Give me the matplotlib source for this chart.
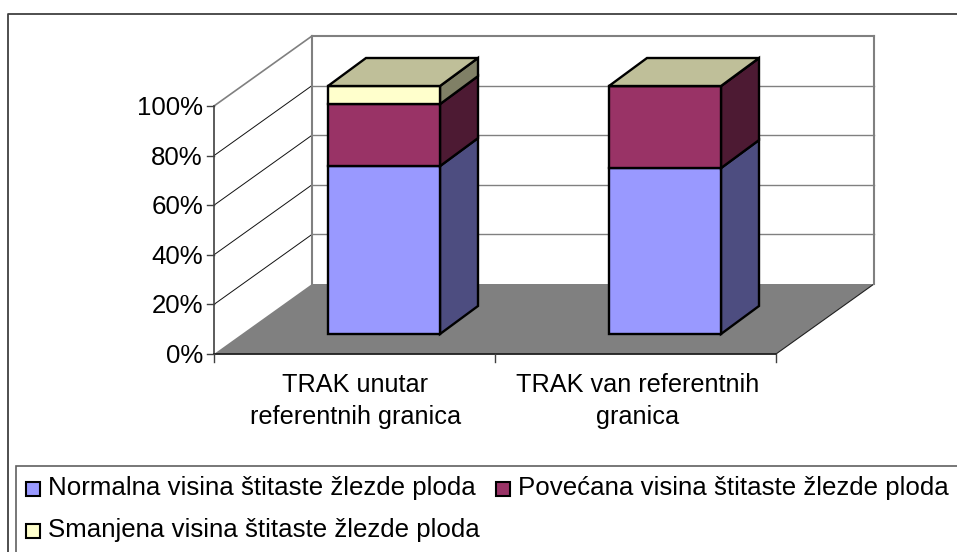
import matplotlib
matplotlib.use('Agg')
import matplotlib.pyplot as plt
from matplotlib.patches import Polygon, Rectangle

plt.rcParams['font.family'] = ['Liberation Sans', 'DejaVu Sans']

categories = ['TRAK unutar\nreferentnih granica', 'TRAK van referentnih\ngranica']
series_names = ['Normalna visina štitaste žlezde ploda',
                'Povećana visina štitaste žlezde ploda',
                'Smanjena visina štitaste žlezde ploda']
normalna = [67.7, 66.9]
povecana = [25.0, 33.1]
smanjena = [7.3, 0.0]
y_ticks = [0, 20, 40, 60, 80, 100]

front_colors = ['#9999FF', '#993366', '#FFFFCC']
side_colors = ['#4D4D80', '#4D1A33', '#808066']
top_color = '#BFBF99'

W, H = 957, 552
fig = plt.figure(figsize=(W / 100, H / 100), dpi=100)
ax = fig.add_axes([0, 0, 1, 1])
ax.set_xlim(0, W)
ax.set_ylim(H, 0)
ax.axis('off')

# 3d box geometry in pixels
x0, x1 = 214, 776
y0, y100 = 354, 106
dx, dy = 98, -70
grey = '#808080'
dark = '#404040'
font = 18.6


def val_y(v):
    return y0 - (y0 - y100) * v / 100


# chart frame, clipped by the image on right and bottom
ax.plot([7.5, 7.5, 960], [556, 14, 14], color=dark, lw=1.3)
ax.add_patch(Rectangle((16, 465.5), 960, 100, fc='white', ec='#606060', lw=1.2))

# floor
ax.add_patch(Polygon([(x0, y0), (x0 + dx, y0 + dy), (x1 + dx, y0 + dy), (x1, y0)],
                     fc=grey, ec='none'))
ax.plot([x1, x1 + dx], [y0, y0 + dy], color='#202020', lw=0.8)

# gridlines
for t in y_ticks[1:-1]:
    y = val_y(t)
    ax.plot([x0, x0 + dx], [y, y + dy], color='#101010', lw=0.7, zorder=1)
    ax.plot([x0 + dx, x1 + dx], [y + dy, y + dy], color=grey, lw=1.0, zorder=1)
ax.plot([x0, x0 + dx], [y100, y100 + dy], color=grey, lw=1.2)
ax.plot([x0 + dx, x0 + dx], [y0 + dy, y100 + dy], color=grey, lw=1.5)
ax.plot([x1 + dx, x1 + dx], [y0 + dy, y100 + dy], color=grey, lw=1.5)
ax.plot([x0 + dx, x1 + dx], [y100 + dy, y100 + dy], color=grey, lw=1.5)

# axes and ticks
ax.plot([x0, x0], [y100, y0], color=dark, lw=1.2)
ax.plot([x0, x1], [y0, y0], color='#202020', lw=1.3)
for t in y_ticks:
    y = val_y(t)
    ax.plot([x0 - 7, x0], [y, y], color=dark, lw=1.0)
    ax.text(x0 - 11, y + 2, f'{t}%', ha='right', va='center', fontsize=font, color='black')
cat_w = (x1 - x0) / len(categories)
for i in range(len(categories) + 1):
    ax.plot([x0 + i * cat_w] * 2, [y0, y0 + 8], color=dark, lw=1.0)

# stacked bars
bar_w = 112
off_x, off_y = 29.5, -20
depth_x, depth_y = 38, -28
bar_lw = 1.7
series = [normalna, povecana, smanjena]
for i, cat in enumerate(categories):
    left = x0 + (i + 0.5) * cat_w - bar_w / 2 + off_x
    right = left + bar_w
    base = 0
    for s, vals in enumerate(series):
        top = base + vals[i]
        yb = val_y(base) + off_y
        yt = val_y(top) + off_y
        ax.add_patch(Polygon([(right, yb), (right + depth_x, yb + depth_y),
                              (right + depth_x, yt + depth_y), (right, yt)],
                             fc=side_colors[s], ec='black', lw=bar_lw, zorder=3))
        ax.add_patch(Polygon([(left, yb), (right, yb), (right, yt), (left, yt)],
                             fc=front_colors[s], ec='black', lw=bar_lw, zorder=3))
        base = top
    ax.add_patch(Polygon([(left, yt), (right, yt), (right + depth_x, yt + depth_y),
                          (left + depth_x, yt + depth_y)],
                         fc=top_color, ec='black', lw=bar_lw, zorder=3))
    ax.text(x0 + (i + 0.5) * cat_w + 1 + i, 401, cat, ha='center', va='center',
            fontsize=18.2, linespacing=1.4, color='black')

# legend
legend_pos = [(26, 489), (496, 489), (26, 531)]
for name, color, (lx, ly) in zip(series_names, front_colors, legend_pos):
    ax.add_patch(Rectangle((lx, ly - 7), 14, 14, fc=color, ec='black', lw=1.5))
    ax.text(lx + 22, ly - 1, name, ha='left', va='center', fontsize=font, color='black')

fig.savefig('out.png', dpi=100)
